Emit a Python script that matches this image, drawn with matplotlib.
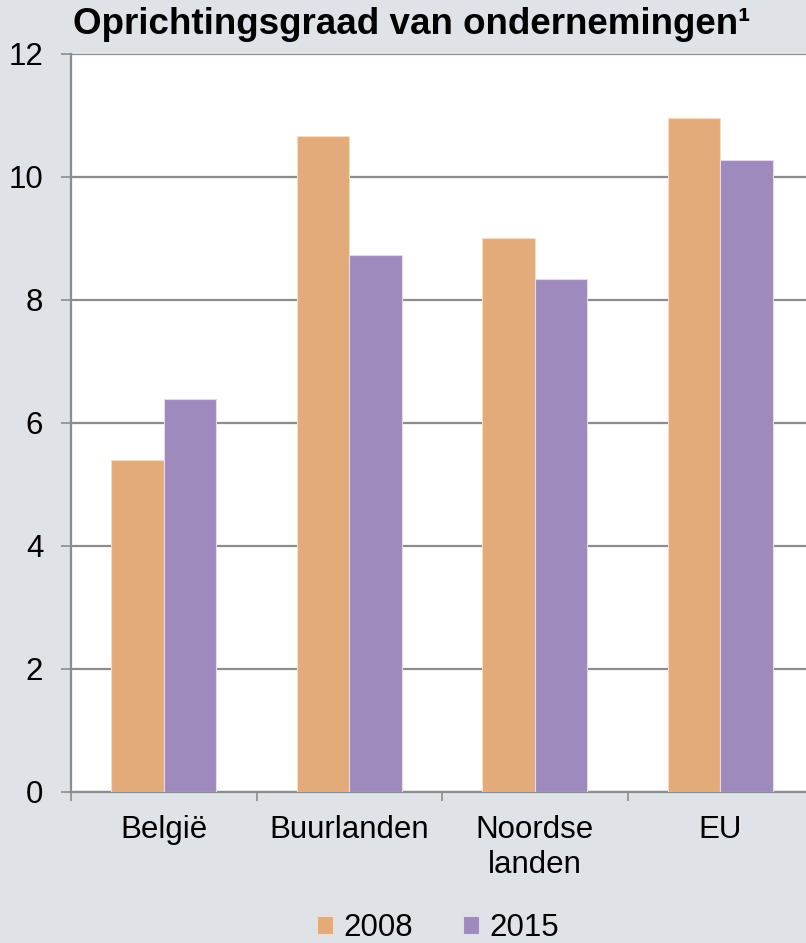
import matplotlib
matplotlib.use("Agg")
import matplotlib.pyplot as plt
import numpy as np

# data
categories = ["België", "Buurlanden", "Noordse\nlanden", "EU"]
years = ["2008", "2015"]
vals_2008 = [5.40, 10.66, 9.01, 10.96]
vals_2015 = [6.38, 8.72, 8.33, 10.27]
yticks = [0, 2, 4, 6, 8, 10, 12]

plt.rcParams["font.family"] = ["Liberation Sans", "DejaVu Sans"]

bg = "#dfe2e7"
grid_col = "#8c8c8c"
col_2008 = "#e3ab79"
col_2015 = "#9e8abd"

fig = plt.figure(figsize=(8.06, 9.43), dpi=100, facecolor=bg)
ax = fig.add_axes([71 / 806, 151.3 / 943, 742 / 806, 738 / 943])
ax.set_facecolor("white")

x = np.arange(len(categories))
w = 0.283
ax.bar(x - w / 2, vals_2008, w, color=col_2008, edgecolor="#f6dcc4", linewidth=0.8, label=years[0], zorder=3)
ax.bar(x + w / 2, vals_2015, w, color=col_2015, edgecolor="#e2dbee", linewidth=0.8, label=years[1], zorder=3)

ax.set_xlim(-0.5, 3.5)
ax.set_ylim(0, 12)
ax.set_yticks(yticks)
ax.yaxis.grid(True, color=grid_col, linewidth=1.6, zorder=1)
ax.set_axisbelow(True)

# tick marks between the groups, labels centred under them
ax.set_xticks([-0.5, 0.5, 1.5, 2.5])
ax.set_xticklabels([])
ax.set_xticks(x, minor=True)
ax.set_xticklabels(categories, minor=True, fontsize=22.5, linespacing=1.2)
ax.tick_params(axis="x", which="major", direction="out", length=6.5, width=1.2, color=grid_col)
ax.tick_params(axis="x", which="minor", length=0, pad=17)
ax.tick_params(axis="y", direction="out", length=7, width=1.2, color=grid_col, labelsize=22.5, pad=13)

for s in ["top", "right"]:
    ax.spines[s].set_visible(False)
for s in ["left", "bottom"]:
    ax.spines[s].set_color(grid_col)
    ax.spines[s].set_linewidth(1.6)

fig.text(73 / 806, 1 - 25 / 943, "Oprichtingsgraad van ondernemingen¹", fontsize=26.5,
         fontweight="bold", va="center", ha="left")

fig.legend(loc="center", bbox_to_anchor=(438 / 806, 1 - 928 / 943), ncol=2, frameon=False,
           fontsize=22.5, handlelength=0.5, handleheight=0.55, handletextpad=0.33, columnspacing=1.6,
           borderpad=0)

fig.savefig("out.png", dpi=100, facecolor=bg)
